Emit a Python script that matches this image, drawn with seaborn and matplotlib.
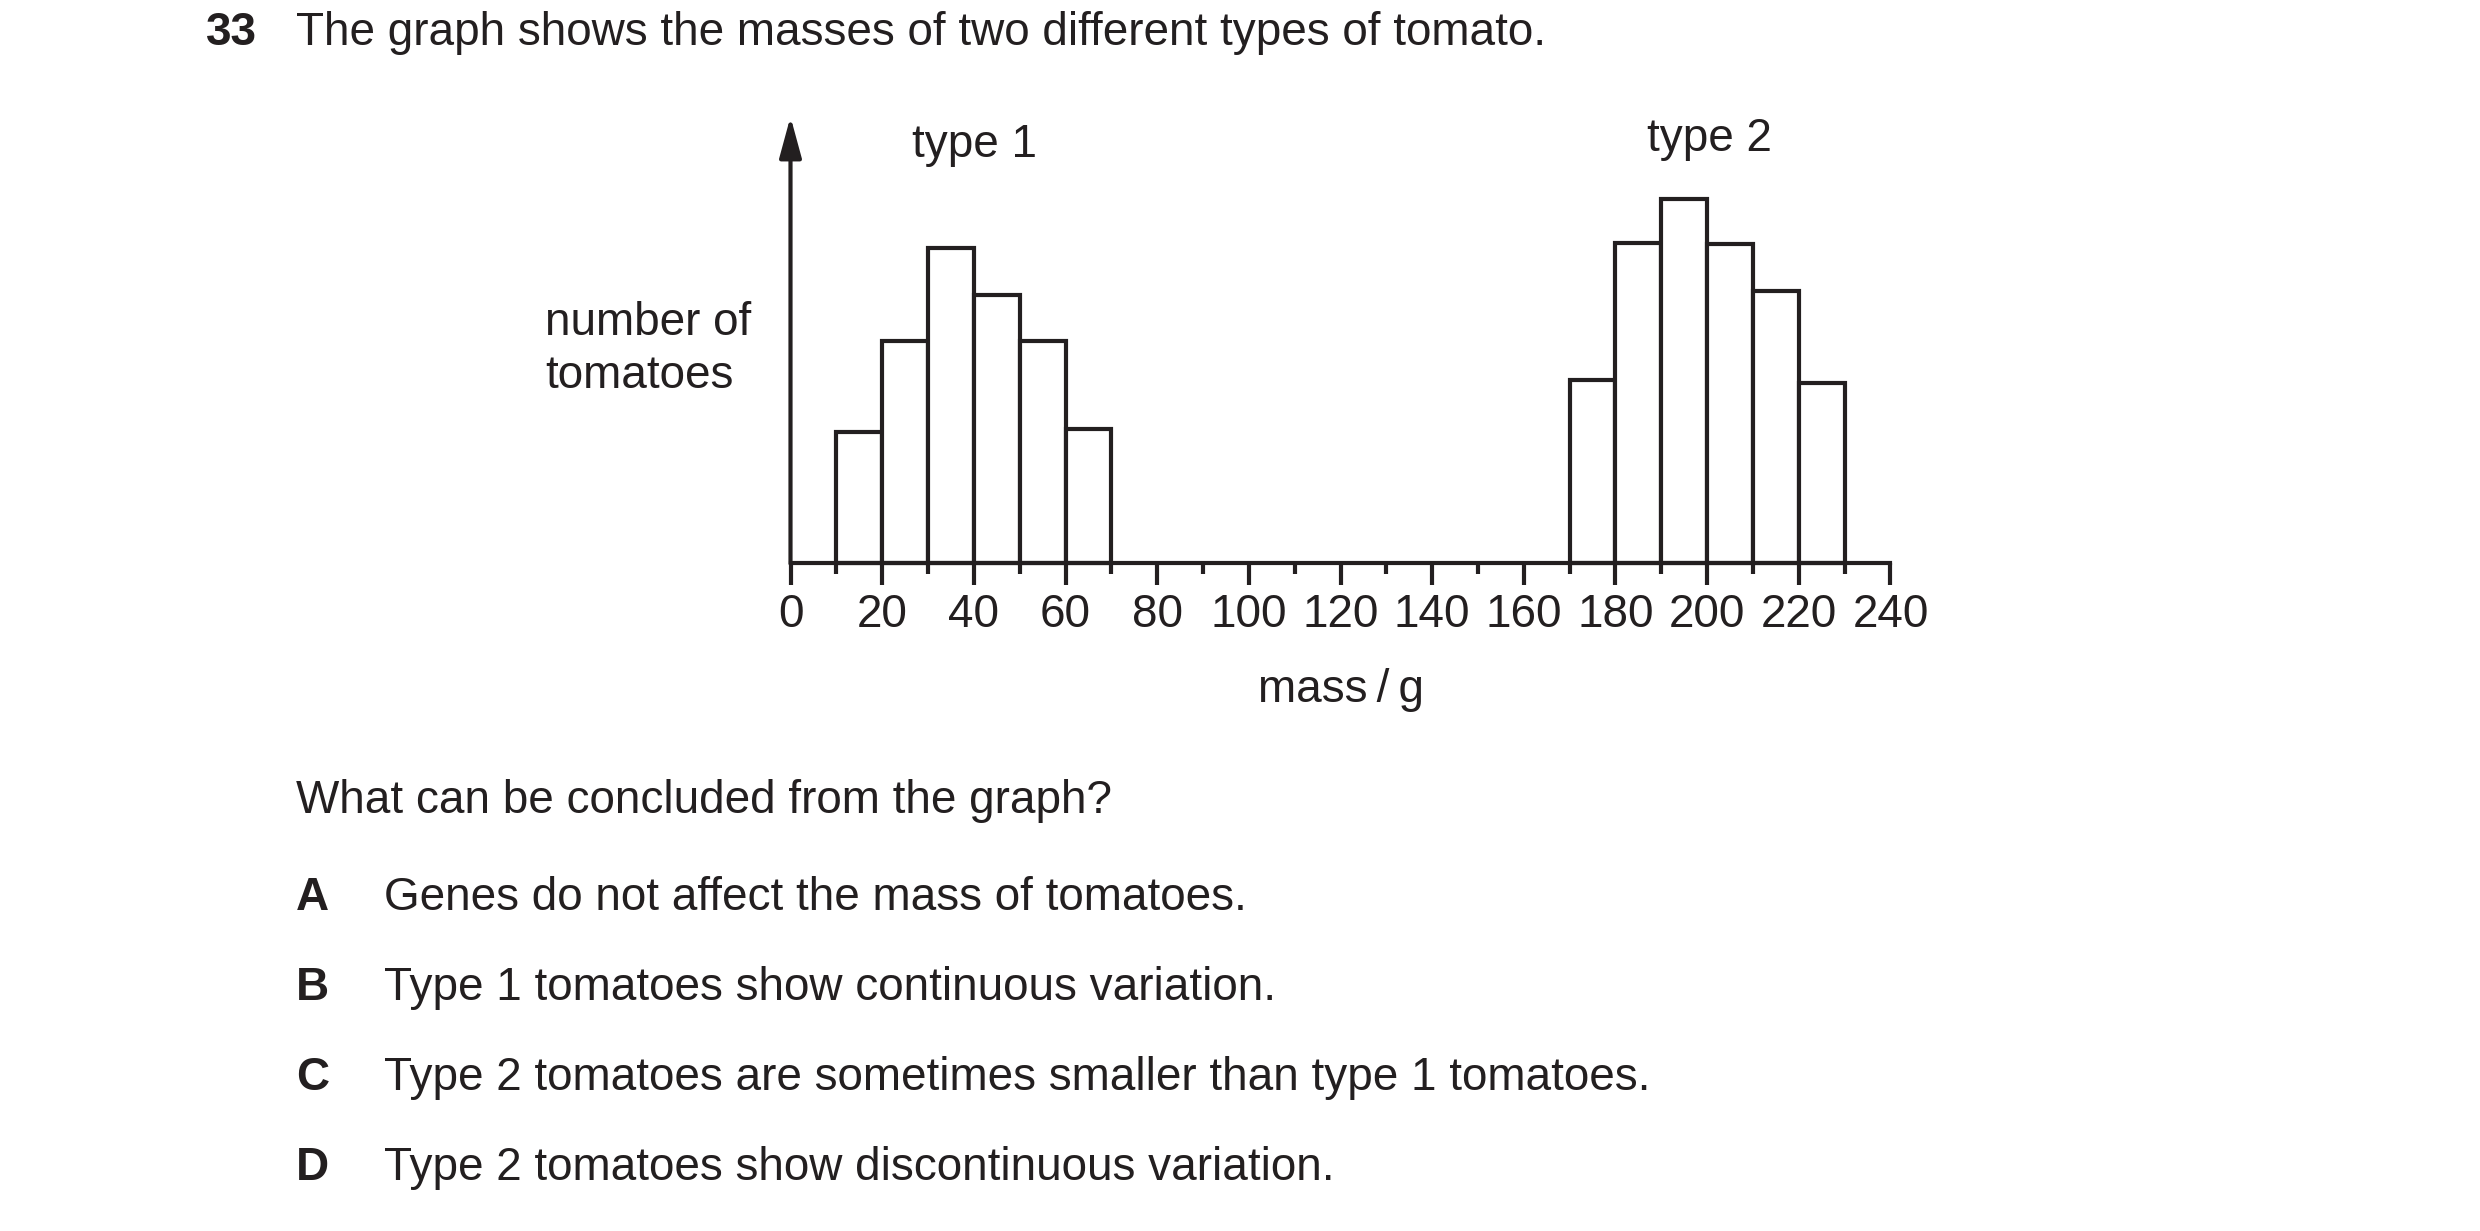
import numpy as np
import pandas as pd
import matplotlib
matplotlib.use('Agg')
import matplotlib.pyplot as plt
import seaborn as sns

# Data (bar heights in arbitrary units, arrow top = 10)
type1_edges = [10, 20, 30, 40, 50, 60, 70]
type1_heights = [2.94, 4.98, 7.05, 6.0, 4.98, 3.0]
type2_edges = [170, 180, 190, 200, 210, 220, 230]
type2_heights = [4.1, 7.16, 8.15, 7.15, 6.1, 4.04]
major_ticks = list(range(0, 241, 20))
minor_ticks = list(range(10, 240, 20))

question_no = '33'
question = 'The graph shows the masses of two different types of tomato.'
prompt = 'What can be concluded from the graph?'
option_letters = ['A', 'B', 'C', 'D']
option_texts = [
    'Genes do not affect the mass of tomatoes.',
    'Type 1 tomatoes show continuous variation.',
    'Type 2 tomatoes are sometimes smaller than type 1 tomatoes.',
    'Type 2 tomatoes show discontinuous variation.',
]

INK = '#231f20'
W, H, DPI = 2480, 1231, 100
FS = 33

sns.set_theme(style='white')
plt.rcParams['font.family'] = ['Liberation Sans', 'DejaVu Sans']
plt.rcParams['text.color'] = INK

fig = plt.figure(figsize=(W / DPI, H / DPI), dpi=DPI)
fig.patch.set_facecolor('white')


def px(x, y):
    # pixel position (from top-left) -> figure fraction
    return x / W, 1 - y / H


# axes placed so that 0..240 g and 0..10 map onto the reference frame
x0, x1, y_base, y_top = 790.5, 1890.5, 562.7, 116.7
ax = fig.add_axes([x0 / W, 1 - y_base / H, (x1 - x0) / W, (y_base - y_top) / H])
ax.set_facecolor('none')

df1 = pd.DataFrame({'mass': np.array(type1_edges[:-1]) + 5, 'n': type1_heights})
df2 = pd.DataFrame({'mass': np.array(type2_edges[:-1]) + 5, 'n': type2_heights})
for d, edges in [(df1, type1_edges), (df2, type2_edges)]:
    sns.histplot(data=d, x='mass', weights='n', bins=edges, ax=ax,
                 color='white', edgecolor=INK, linewidth=3.0, alpha=1,
                 clip_on=False)

ax.set_xlim(0, 240)
ax.set_ylim(0, 10)
ax.set_xlabel('')
ax.set_ylabel('')

for s in ['top', 'right', 'left']:
    ax.spines[s].set_visible(False)
ax.spines['bottom'].set_color(INK)
ax.spines['bottom'].set_linewidth(3.0)
ax.spines['bottom'].set_zorder(5)

ax.set_xticks(major_ticks)
ax.set_xticks(minor_ticks, minor=True)
ax.set_xticklabels([str(t) for t in major_ticks])
ax.set_yticks([])
ax.tick_params(axis='x', which='major', direction='out', length=15.8, width=3.0,
               color=INK, labelsize=FS, labelcolor=INK, pad=6, bottom=True)
ax.tick_params(axis='x', which='minor', direction='out', length=7.9, width=3.0,
               color=INK, bottom=True)

# vertical axis with arrow head
ax.annotate('', xy=(0, 10), xytext=(0, -0.02), annotation_clip=False,
            arrowprops=dict(arrowstyle='-|>,head_length=25,head_width=6.8',
                            mutation_scale=1, lw=3.0, color=INK,
                            shrinkA=0, shrinkB=0))

# texts
fig.text(*px(206, 45), question_no, fontsize=FS, fontweight='bold', va='baseline')
fig.text(*px(296, 45), question, fontsize=FS, va='baseline')
fig.text(*px(545, 335), 'number of', fontsize=FS, va='baseline')
fig.text(*px(545, 388), 'tomatoes', fontsize=FS, va='baseline')
fig.text(*px(975, 157), 'type 1', fontsize=FS, va='baseline', ha='center')
fig.text(*px(1709, 151), 'type 2', fontsize=FS, va='baseline', ha='center')
fig.text(*px(1341, 702), 'mass\u2009/\u2009g', fontsize=FS, va='baseline', ha='center')
fig.text(*px(296, 813), prompt, fontsize=FS, va='baseline')
for i, (letter, txt) in enumerate(zip(option_letters, option_texts)):
    yb = 910 + 90 * i
    fig.text(*px(296, yb), letter, fontsize=FS, fontweight='bold', va='baseline')
    fig.text(*px(384, yb), txt, fontsize=FS, va='baseline')

fig.savefig('out.png', dpi=DPI, facecolor='white')
